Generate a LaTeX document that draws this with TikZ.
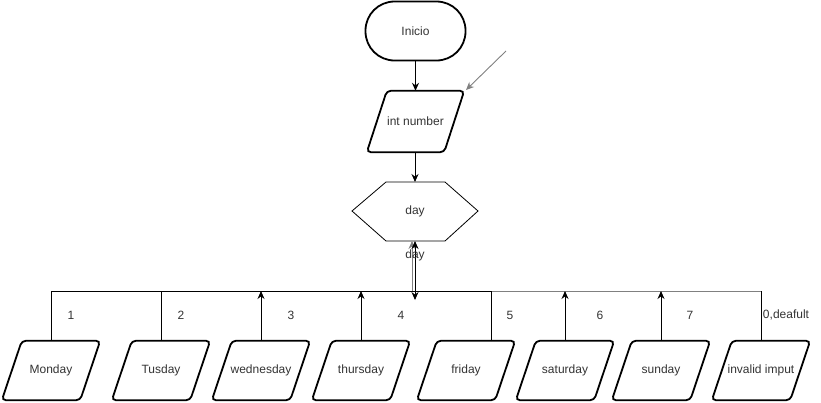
\documentclass[tikz,border=0pt]{standalone}
\usepackage{fontspec}
\setmainfont{Liberation Sans}
\usetikzlibrary{arrows.meta}
\definecolor{edgegray}{HTML}{808080}
\begin{document}
\begin{tikzpicture}[x=1pt,y=-1pt,
  txt/.style={font=\fontsize{12}{14}\selectfont, text=black!80, inner sep=0pt},
  iobox/.style={minimum width=98pt, minimum height=59pt, inner sep=0pt, font=\fontsize{12}{14}\selectfont, text=black!80},
  shapeline/.style={draw=black, line width=1.8pt, rounded corners=4pt},
  conn/.style={draw=black, line width=0.9pt},
  arr/.style={conn, -{Stealth[length=8pt,width=7pt]}},
  lbl/.style={txt}
]
\useasboundingbox (0,0) rectangle (821,402);

% Inicio
\node[txt, draw=black, line width=1.8pt, rounded corners=29pt, minimum width=100pt, minimum height=59pt] (inicio) at (415.5,31) {Inicio};

% int number
\node[iobox, minimum width=97pt, minimum height=61pt] (intn) at (415.5,121.5) {int number};
\draw[shapeline] (intn.south west) -- ([xshift=-20pt]intn.south east) -- (intn.north east) -- ([xshift=20pt]intn.north west) -- cycle;

% day hexagon
\node[txt] (day) at (415,211) {day};
\draw[line width=0.8pt] (352,211) -- (386,182) -- (445,182) -- (478,211) -- (445,241) -- (386,241) -- cycle;
\coordinate (dayb) at (415,241);
\coordinate (dayb2) at (412,241);

% arrows top
\draw[arr] (inicio.south) -- (intn.north -| inicio.south);
\draw[arr] (intn.south -| 415,0) -- (415,182);
\coordinate (gs) at (506,51);
\coordinate (ge) at (466,90);
\draw[draw=edgegray, line width=0.9pt, -{Stealth[length=8pt,width=7pt]}] (gs) -- (ge);

% bottom boxes
\foreach \n/\x/\t in {mon/51/Monday, tue/161/Tusday, wed/261/wednesday, thu/361/thursday, fri/466/friday, sat/565/saturday, sun/661/sunday, inv/761/invalid imput}{
  \node[iobox] (\n) at (\x,370.5) {\t};
  \draw[shapeline] (\n.south west) -- ([xshift=-20pt]\n.south east) -- (\n.north east) -- ([xshift=20pt]\n.north west) -- cycle;
}

% bus coordinates
\coordinate (b1) at (51,291);
\coordinate (b2) at (161,291);
\coordinate (b3) at (261,291);
\coordinate (b4) at (361,291);
\coordinate (b5) at (491,291);
\coordinate (b6) at (565,291);
\coordinate (b7) at (661,291);
\coordinate (b8) at (761,291);
\coordinate (bd) at (412,291);
\coordinate (bdd) at (415,300);
\coordinate (f5) at (491,341);

% bus lines
\draw[draw=edgegray, line width=0.9pt] (bd) -- (b8);
\draw[conn] (b1) -- (b5);

% drops
\draw[conn] (mon.north) -- (b1);
\draw[conn] (tue.north) -- (b2);
\draw[arr] (wed.north) -- (b3);
\draw[arr] (thu.north) -- (b4);
\draw[conn] (f5) -- (b5);
\draw[arr] (sat.north) -- (b6);
\draw[arr] (sun.north) -- (b7);
\draw[conn] (inv.north) -- (b8);

% day connectors
\draw[draw=edgegray, line width=0.9pt, -{Stealth[length=8pt,width=7pt]}] (bd) -- (dayb2);
\draw[conn, {Stealth[length=8pt,width=7pt]}-{Stealth[length=8pt,width=7pt]}] (dayb) -- (bdd);
\node[lbl] (daylbl) at (415,255) {day};

% case labels
\node[lbl] (l1) at (71,315) {1};
\node[lbl] (l2) at (181,315) {2};
\node[lbl] (l3) at (291,315) {3};
\node[lbl] (l4) at (401,315) {4};
\node[lbl] (l5) at (510,315) {5};
\node[lbl] (l6) at (600,315) {6};
\node[lbl] (l7) at (690,315) {7};
\node[lbl] (l8) at (786,315) {0,deafult};
\end{tikzpicture}
\end{document}
